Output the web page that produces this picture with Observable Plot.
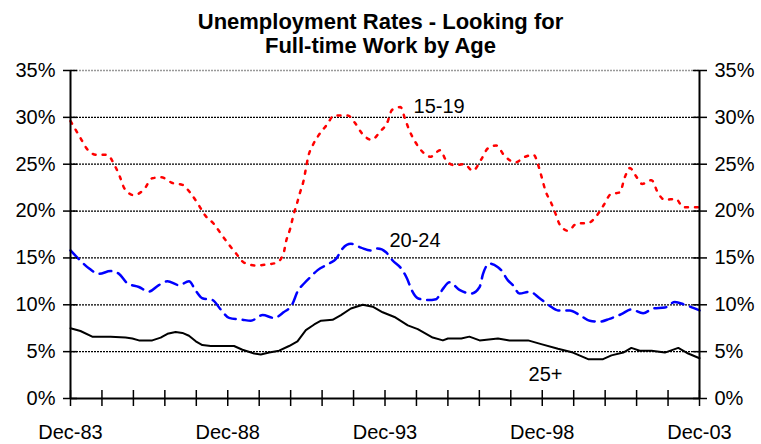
<!DOCTYPE html>
<html>
<head>
<meta charset="utf-8">
<script src="https://cdn.jsdelivr.net/npm/d3@7"></script>
<script src="https://cdn.jsdelivr.net/npm/@observablehq/plot@0.6"></script>
<style>
  html, body { margin: 0; padding: 0; background: #fff; }
  #title { width: 761px; height: 48px; padding-top: 10px; text-align: center;
    font-family: "Liberation Sans", Arial, sans-serif; font-weight: bold; font-size: 22px; line-height: 24px; color: #000; }
  #chart svg { display: block; }
</style>
</head>
<body>
<div id="title">Unemployment Rates - Looking for<br>Full-time Work by Age</div>
<div id="chart"></div>
<script>
// months since Dec-83
const months1519 = [0,3.8,6.1,9.9,14,16.8,18.8,20.6,24.2,28,31.2,34.7,38.9,42.7,46.1,49,51.2,54.8,57.6,60.5,63.4,66.2,70.7,74.9,78.7,81.3,82.2,83.8,85.1,86.4,87.6,88.9,89.8,90.7,92.4,94.7,97.8,100.6,105.8,108.3,111.2,114.9,118.2,120.8,122.7,125.9,127.7,129.3,131.5,134.4,137.3,141.1,143.3,146.5,150.3,153.5,156.7,159.3,162.4,165.6,169.7,173.5,176.7,178.8,179.9,181.3,183.2,185.1,186.6,189.8,193.4,197.2,201,203.6,206.1,209.6,211.5,213.4,215.6,218.1,221.7,224.2,226.8,231,233.8,240];
const rate1519 = [29.6,27.8,26.7,26.0,26.0,24.9,23.7,22.4,21.7,22.3,23.5,23.6,23.0,22.8,21.8,20.6,19.6,18.6,17.5,16.4,15.4,14.5,14.2,14.3,14.5,15.5,16.7,18.1,19.6,20.8,22.0,23.2,24.5,25.8,27.0,28.1,29.2,30.2,30.2,29.5,28.3,27.6,28.5,29.4,30.8,31.1,29.8,28.6,27.4,26.3,25.8,26.5,25.4,24.9,25.0,24.3,25.5,26.7,27.0,25.9,25.2,25.8,26.0,24.6,23.5,22.1,21.0,19.7,18.6,17.9,18.7,18.7,19.6,20.7,21.8,22.0,23.6,24.6,23.8,22.9,23.3,21.9,21.2,21.3,20.4,20.4];

const months2024 = [0,3.8,7,10.8,15.3,18.5,21.7,26.1,29.9,33.7,37,41.4,45.2,47.8,50.3,54.2,57.3,60.5,65.6,68.8,73.3,77.7,81.3,84.7,86.6,89.2,91.7,94.3,98.7,101.3,103.8,107,110.8,114.7,117.2,120.4,123,126.1,128.4,130.3,132.5,136.3,139.5,142.1,144.6,148.4,152.9,156.1,157.4,159.9,163.1,164.3,166.9,168.8,171.3,175.2,179,182.8,186,190.5,194.3,198.1,201.9,205.7,210.2,214,218.5,222.3,226.8,230.6,234.4,240];
const rate2024 = [15.8,14.7,13.9,13.3,13.6,13.3,12.3,11.9,11.4,12.1,12.5,12.1,12.5,11.5,10.7,10.5,9.5,8.6,8.4,8.3,8.9,8.6,9.2,10.1,11.4,12.3,13.0,13.7,14.4,14.9,16.0,16.5,16.1,15.8,16.0,15.6,14.7,13.9,12.8,11.5,10.7,10.5,10.6,11.7,12.4,11.6,11.2,11.9,13.3,14.4,14.0,13.7,12.6,12.1,11.2,11.4,10.7,9.9,9.4,9.4,8.9,8.3,8.2,8.5,9.0,9.5,9.1,9.6,9.7,10.3,10.0,9.4];

const months25 = [0,3.8,8.3,15.3,21,23.6,26.1,31.2,34.4,37,40.1,42.7,45.2,47.8,50.3,53.5,62.4,65.6,70.1,72.6,75.8,79.6,83.4,86.6,89.8,93,95.6,100,103.2,107,111.5,115.3,119.1,123.6,128.7,132.5,138.2,142.1,144,149.1,152.2,156.1,163.1,167.5,174.6,179.6,186,191.7,197.5,203.2,206.4,210.9,214,217.2,221.7,226.8,231.9,235.7,240];
const rate25 = [7.5,7.2,6.6,6.6,6.5,6.4,6.2,6.2,6.5,6.9,7.1,7.0,6.7,6.1,5.7,5.6,5.6,5.2,4.8,4.7,4.9,5.1,5.6,6.1,7.3,7.9,8.3,8.4,8.9,9.6,10.0,9.8,9.2,8.7,7.8,7.4,6.5,6.2,6.4,6.4,6.6,6.2,6.4,6.2,6.2,5.8,5.3,4.9,4.2,4.2,4.6,4.9,5.4,5.1,5.1,4.9,5.4,4.8,4.3];

const xTickLabels = ["Dec-83","Dec-88","Dec-93","Dec-98","Dec-03"];
const xLabelTicks = [0,60,120,180,240];
const xMinorTicks = d3.range(0, 241, 12);
const yTicks = [0,5,10,15,20,25,30,35];

const seriesNames = ["15-19","20-24","25+"];
const labelMonths = [130.9,121.7,174.8];
const labelRates = [31.2,16.8,2.5];

const zip = (ms, vs) => ms.map((m, i) => ({m, v: vs[i]}));
const d1519 = zip(months1519, rate1519);
const d2024 = zip(months2024, rate2024);
const d25 = zip(months25, rate25);
const labels = seriesNames.map((s, i) => ({s, m: labelMonths[i], v: labelRates[i]}));

const font = "Liberation Sans, Arial, sans-serif";

const chart = Plot.plot({
  width: 761,
  height: 386,
  marginLeft: 70,
  marginRight: 62,
  marginTop: 12,
  marginBottom: 46,
  style: {fontFamily: font, fontSize: "20px", color: "#000", background: "#fff", overflow: "visible"},
  x: {domain: [0, 240], label: null},
  y: {domain: [0, 35], label: null},
  marks: [
    Plot.ruleY(yTicks.filter(d => d > 0 && d < 35), {stroke: "#000", strokeWidth: 1.2, strokeDasharray: "2,1"}),
    Plot.ruleY([35], {stroke: "#999", strokeWidth: 1.5, strokeDasharray: "2,1"}),
    Plot.line(d25, {x: "m", y: "v", stroke: "#000", strokeWidth: 2}),
    Plot.line(d2024, {x: "m", y: "v", stroke: "#0000ff", strokeWidth: 2.5, strokeDasharray: "12,7", curve: "monotone-x"}),
    Plot.line(d1519, {x: "m", y: "v", stroke: "#ff0000", strokeWidth: 2.5, strokeDasharray: "3,7", curve: "monotone-x"}),
    Plot.ruleX([0, 240], {stroke: "#000", strokeWidth: 2}),
    Plot.ruleY([0], {stroke: "#000", strokeWidth: 2}),
    Plot.axisY({anchor: "left", ticks: yTicks, tickSize: 14, dx: 7, tickFormat: () => "", strokeWidth: 1.5}),
    Plot.axisY({anchor: "right", ticks: yTicks, tickSize: 14, dx: -7, tickFormat: () => "", strokeWidth: 1.5}),
    Plot.axisY({anchor: "left", ticks: yTicks, tickSize: 0, tickPadding: 15, tickFormat: d => d + "%", fontSize: 20}),
    Plot.axisY({anchor: "right", ticks: yTicks, tickSize: 0, tickPadding: 15, tickFormat: d => d + "%", fontSize: 20}),
    Plot.axisX({anchor: "bottom", ticks: xMinorTicks, tickSize: 16, dy: -8, tickFormat: () => "", strokeWidth: 1.5}),
    Plot.axisX({anchor: "bottom", ticks: xLabelTicks, tickSize: 0, tickPadding: 26, tickFormat: (d, i) => xTickLabels[i], fontSize: 20}),
    Plot.text(labels, {x: "m", y: "v", text: "s", textAnchor: "start", lineAnchor: "middle", fontSize: 20, fill: "#000"})
  ]
});
document.getElementById("chart").appendChild(chart);
</script>
</body>
</html>
